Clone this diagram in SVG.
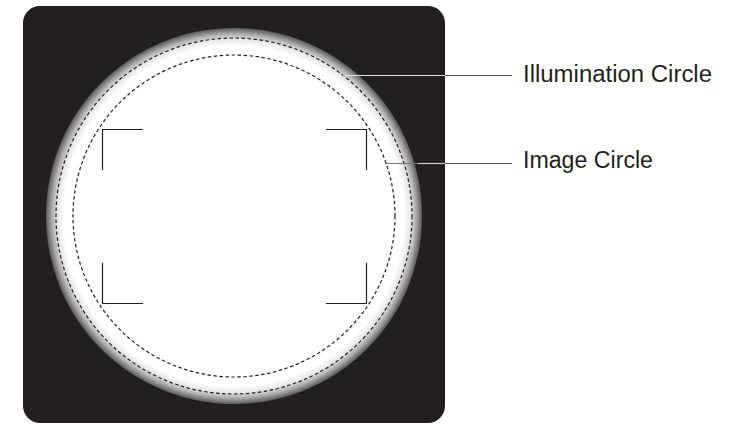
<svg xmlns="http://www.w3.org/2000/svg" width="734" height="424" viewBox="0 0 734 424">
<style>
.dash{fill:none;stroke:#231f20;stroke-width:1.2;stroke-dasharray:3.5 2.5}
.br{fill:none;stroke:#231f20;stroke-width:1.2}
.lbl{font-family:"Liberation Sans",Arial,sans-serif;font-size:23px;fill:#231f20}
</style>
<defs>
<radialGradient id="glow" cx="234" cy="216" r="188" gradientUnits="userSpaceOnUse">
<stop offset="0" stop-color="#fff"/>
<stop offset="0.905" stop-color="#fff"/>
<stop offset="0.94" stop-color="#e6e6e6"/>
<stop offset="0.97" stop-color="#a8a8a8"/>
<stop offset="1" stop-color="#5a5a5a"/>
</radialGradient>
</defs>
<rect width="734" height="424" fill="#fff"/>
<g id="background">
<rect x="23" y="6" width="422" height="417" rx="17" fill="#231f20"/>
<circle cx="234" cy="216" r="188" fill="url(#glow)"/>
</g>
<g id="illumination-circle">
<circle class="dash" cx="234" cy="216" r="178"/>
</g>
<g id="image-circle">
<circle class="dash" cx="234" cy="216" r="161"/>
</g>
<g id="sensor-frame">
<path class="br" d="M102.5 170V129.5H143"/>
<path class="br" d="M326 129.5H366.5V170"/>
<path class="br" d="M102.5 263V303.5H143"/>
<path class="br" d="M326 303.5H366.5V263"/>
</g>
<g id="connectors">
<line x1="343" y1="75.5" x2="445" y2="75.5" stroke="#e0e0e0" stroke-width="1.2"/>
<line x1="445" y1="75.5" x2="512" y2="75.5" stroke="#555" stroke-width="1.2"/>
<line x1="385" y1="163.5" x2="418" y2="163.5" stroke="#777" stroke-width="1.2"/>
<line x1="418" y1="163.5" x2="445" y2="163.5" stroke="#ccc" stroke-width="1.2"/>
<line x1="445" y1="163.5" x2="512" y2="163.5" stroke="#555" stroke-width="1.2"/>
</g>
<g id="label-illumination">
<text class="lbl" x="523" y="82" textLength="189" lengthAdjust="spacingAndGlyphs">Illumination Circle</text>
</g>
<g id="label-image">
<text class="lbl" x="523" y="168" textLength="130" lengthAdjust="spacingAndGlyphs">Image Circle</text>
</g>
</svg>
